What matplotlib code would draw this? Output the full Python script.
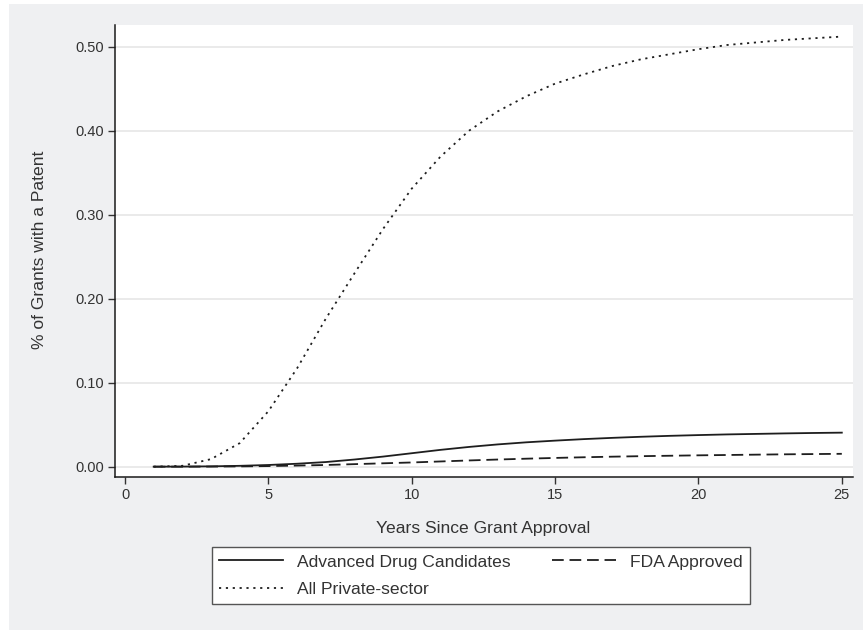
import matplotlib
matplotlib.use("Agg")
import matplotlib.pyplot as plt
from matplotlib.patches import Rectangle

years = list(range(1, 26))
advanced = [0.000, 0.0001, 0.0004, 0.001, 0.002, 0.0035, 0.0055, 0.0085, 0.012, 0.016,
            0.020, 0.0235, 0.0265, 0.029, 0.031, 0.0328, 0.0343, 0.0356, 0.0367, 0.0376,
            0.0384, 0.039, 0.0396, 0.0401, 0.0405]
fda = [0.000, 0.000, 0.0001, 0.0003, 0.0007, 0.0013, 0.002, 0.003, 0.004, 0.005,
       0.0062, 0.0074, 0.0085, 0.0095, 0.0104, 0.0112, 0.0119, 0.0125, 0.013, 0.0135,
       0.0139, 0.0143, 0.0147, 0.015, 0.0153]
private = [0.000, 0.001, 0.009, 0.028, 0.066, 0.117, 0.176, 0.230, 0.283, 0.331,
           0.369, 0.400, 0.423, 0.441, 0.456, 0.467, 0.477, 0.485, 0.491, 0.497,
           0.502, 0.505, 0.508, 0.510, 0.512]
xticks = [0, 5, 10, 15, 20, 25]
yticks = [0.0, 0.1, 0.2, 0.3, 0.4, 0.5]
ytick_labels = ["0.00", "0.10", "0.20", "0.30", "0.40", "0.50"]

plt.rcParams['font.family'] = ['Liberation Sans', 'DejaVu Sans']

W, H = 865, 631
fig = plt.figure(figsize=(W / 100, H / 100), dpi=100, facecolor='white')
bg = Rectangle((9 / W, 1 - 630 / H), (863 - 9) / W, (630 - 4) / H,
               transform=fig.transFigure, facecolor='#eff0f2', edgecolor='none', zorder=-10)
fig.patches.append(bg)

ax = fig.add_axes([115 / W, 1 - 477 / H, (853 - 115) / W, (477 - 25) / H])
ax.set_facecolor('white')
lc = '#1e1e1e'
l1, = ax.plot(years, advanced, color=lc, lw=1.3, linestyle='-', label='Advanced Drug Candidates')
l2, = ax.plot(years, fda, color=lc, lw=1.3, linestyle=(0, (6.5, 3.2)), label='FDA Approved')
l3, = ax.plot(years, private, color=lc, lw=1.3, linestyle=(0, (1.2, 2.6)), label='All Private-sector')

ax.set_xlim(-0.349, 25.39)
ax.set_ylim(-0.0123, 0.5258)
ax.set_xticks(xticks)
ax.set_xticklabels([str(t) for t in xticks])
ax.set_yticks(yticks)
ax.set_yticklabels(ytick_labels)
ax.grid(axis='y', color='#e6e6e6', lw=1.2)
ax.set_axisbelow(True)
for s in ['top', 'right']:
    ax.spines[s].set_visible(False)
for s in ['left', 'bottom']:
    ax.spines[s].set_color('#1a1a1a')
    ax.spines[s].set_linewidth(1.1)
ax.tick_params(axis='both', direction='out', length=5, width=1, color='#333333',
               labelsize=10.5, labelcolor='#333333', pad=3)

fig.text(483 / W, 1 - 528 / H, 'Years Since Grant Approval', ha='center', va='center',
         fontsize=12.6, color='#333333')
fig.text(40 / W, 1 - 250 / H, '% of Grants with a Patent', ha='center', va='center',
         rotation=90, fontsize=12.6, color='#333333')

leg = fig.legend([l1, l3, l2], ['Advanced Drug Candidates', 'All Private-sector', 'FDA Approved'],
                 loc='upper left', bbox_to_anchor=(212 / W, 1 - 547 / H),
                 ncol=2, borderaxespad=0, fontsize=12.6, handlelength=3.66,
                 handletextpad=0.8, labelspacing=0.69, borderpad=0.42, columnspacing=2.35,
                 fancybox=False, frameon=True, labelcolor='#333333')
leg.get_frame().set_edgecolor('#555555')
leg.get_frame().set_linewidth(1.0)
leg.get_frame().set_facecolor('white')
leg.get_frame().set_alpha(1)

fig.savefig('out.png', dpi=100, facecolor='white')
